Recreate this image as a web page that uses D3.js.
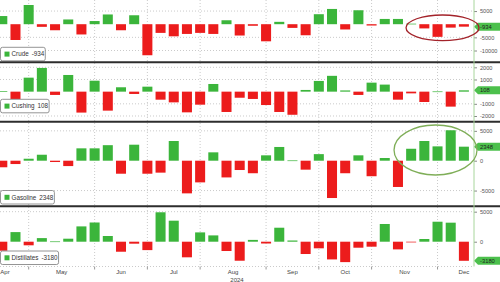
<!DOCTYPE html>
<html>
<head>
<meta charset="utf-8">
<script src="https://cdn.jsdelivr.net/npm/d3@7"></script>
<style>
  body { margin: 0; background: #fff; }
  svg { display: block; font-family: "Liberation Sans", Arial, sans-serif; }
</style>
</head>
<body>
<div id="chart"></div>
<script>
// weekly slots (Fridays), one bar each
const weeks = d3.utcFriday.range(new Date("2024-04-19"), new Date("2024-12-21"));
const monthLabels = ["Apr", "May", "Jun", "Jul", "Aug", "Sep", "Oct", "Nov", "Dec"];
const yearLabel = "2024";

// weekly change, thousand barrels
const crude = [3100, -6000, 7300, -1000, -2300, 1800, -3900, 1200, 3700, -2300, 3400, -11800,
  -3300, -4600, -3700, -3300, -3700, 1500, -4300, -600, -6500, 900, -1400, -4200,
  3800, 5800, -2000, 5300, -500, 2000, 2000, 200, -1600, -4800, -1300, -934];
const cushing = [50, -600, 1150, 1950, -270, 1370, -1720, 900, -1560, 360, -190, 410,
  -660, -880, -1700, -1070, 630, -1670, -500, -600, -1100, -1670, -1900, 140,
  880, 1300, 100, -270, 740, 580, -660, -140, -850, 20, -1230, 108];
const gasoline = [-1100, -560, 330, 1000, -220, -900, 2070, 2070, 2600, -2180, 2680, -2180,
  -2000, 3300, -5470, -3630, 1400, -2800, -1560, -2100, 900, 2300, 50, -1500,
  1100, -6250, -2100, 900, -2600, 450, -4400, 2000, 3300, 2400, 5100, 2348];
const distillates = [-1500, 1600, -600, 600, 50, 500, 2550, 3200, 950, -1670, -330, -1400,
  4900, 3500, -2600, 1550, 1050, -1550, -3170, 300, -300, 2330, 200, -2050,
  -1100, -2950, -3400, -1000, -830, 2950, -1280, -100, 450, 3330, 3170, -3180];

// zero ticks of crude and cushing sit under the last value tag
const crudeTicks = [5000, -5000, -10000];
const cushingTicks = [2000, 1000, -1000, -2000];
const gasolineTicks = [5000, 0, -5000];
const distillatesTicks = [5000, 0];

const width = 500, height = 282, plotRight = 474, plotBottom = 266.5;
const green = "#3bb53b", red = "#ec1c1c", grid = "#bdbdbd";

const panels = [
  { name: "Crude", values: crude, ticks: crudeTicks, top: 0, bottom: 61.3, domain: [-14100, 9200], legendY: 47.3 },
  { name: "Cushing", values: cushing, ticks: cushingTicks, top: 63.3, bottom: 120.7, domain: [-2387, 2330], legendY: 99.3 },
  { name: "Gasoline", values: gasoline, ticks: gasolineTicks, top: 122.7, bottom: 205.3, domain: [-7470, 6365], legendY: 190.5 },
  { name: "Distillates", values: distillates, ticks: distillatesTicks, top: 207.3, bottom: plotBottom, domain: [-4130, 5730], legendY: 251 }
];

const svg = d3.select("#chart").append("svg")
  .attr("width", width)
  .attr("height", height);

const x = d3.scaleBand()
  .domain(d3.range(weeks.length))
  .range([-4.3, 470.5])
  .paddingInner(0.24)
  .paddingOuter(0.12);

// centre of slot i, also for fractional / out of range slots
const xc = (i) => x(0) + x.bandwidth() / 2 + i * x.step();
const slotOf = (d) => (d - weeks[0]) / (7 * 864e5);

// first Friday of each month, Apr .. Jan
const monthStarts = d3.utcMonths(new Date("2024-04-01"), new Date("2025-01-02"))
  .map((m) => slotOf(d3.utcFriday.ceil(m)));
const boundaries = monthStarts.filter((s) => s > 0 && s < weeks.length);

// vertical month grid
svg.append("g")
  .selectAll("line")
  .data(boundaries)
  .join("line")
  .attr("x1", (d) => xc(d))
  .attr("x2", (d) => xc(d))
  .attr("y1", 0)
  .attr("y2", plotBottom)
  .attr("stroke", grid)
  .attr("stroke-width", 0.8)
  .attr("stroke-dasharray", "1,2");

panels.forEach((p) => {
  const y = d3.scaleLinear().domain(p.domain).range([p.bottom, p.top]);
  p.y = y;
  const g = svg.append("g");

  g.append("g")
    .selectAll("line")
    .data(p.ticks.filter((t) => t !== 0))
    .join("line")
    .attr("x1", 0)
    .attr("x2", plotRight)
    .attr("y1", (d) => y(d))
    .attr("y2", (d) => y(d))
    .attr("stroke", grid)
    .attr("stroke-width", 0.8)
    .attr("stroke-dasharray", "1,2");

  g.append("g")
    .selectAll("rect")
    .data(p.values)
    .join("rect")
    .attr("x", (d, i) => x(i))
    .attr("width", x.bandwidth())
    .attr("y", (d) => y(Math.max(0, d)))
    .attr("height", (d) => Math.max(0.7, Math.abs(y(d) - y(0))))
    .attr("fill", (d) => (d >= 0 ? green : red));

  // right axis
  g.append("g")
    .attr("transform", `translate(${plotRight},0)`)
    .call(d3.axisRight(y).tickValues(p.ticks).tickSize(3).tickPadding(3).tickFormat((d) => String(d)))
    .call((a) => a.select(".domain").remove())
    .call((a) => a.selectAll("line").attr("stroke", "#888"))
    .call((a) => a.selectAll("text")
      .attr("font-size", 5.6)
      .attr("font-family", "Liberation Sans, Arial, sans-serif")
      .attr("fill", "#555"));

  // last value tag
  const last = p.values[p.values.length - 1];
  const ty = y(last);
  g.append("path")
    .attr("d", `M${plotRight},${ty} L${plotRight + 4},${ty - 4} H${width + 2} V${ty + 4} H${plotRight + 4} Z`)
    .attr("fill", "#4cc04c");
  g.append("text")
    .attr("x", plotRight + 6)
    .attr("y", ty)
    .attr("dy", "0.35em")
    .attr("font-size", 5.8)
    .attr("fill", "#1e1e1e")
    .text(last);

  // legend box
  const leg = g.append("g").attr("transform", `translate(0.5,${p.legendY})`);
  const box = leg.append("rect")
    .attr("height", 13.5)
    .attr("rx", 2)
    .attr("fill", "#fff")
    .attr("stroke", "#7a7a7a")
    .attr("stroke-width", 0.8);
  leg.append("rect")
    .attr("x", 4)
    .attr("y", 4.3)
    .attr("width", 5)
    .attr("height", 5)
    .attr("fill", green);
  const label = leg.append("text")
    .attr("x", 11)
    .attr("y", 9.1)
    .attr("font-size", 6.3)
    .attr("fill", "#333");
  label.append("tspan").text(p.name);
  label.append("tspan").attr("dx", 3).text(last);
  box.attr("width", 11 + label.node().getComputedTextLength() + 4);
});

// panel separators
svg.append("g")
  .selectAll("line")
  .data(panels.slice(1))
  .join("line")
  .attr("x1", 0)
  .attr("x2", width)
  .attr("y1", (p) => p.top - 1)
  .attr("y2", (p) => p.top - 1)
  .attr("stroke", "#2d2d2d")
  .attr("stroke-width", 2);

// right axis line
svg.append("line")
  .attr("x1", plotRight)
  .attr("x2", plotRight)
  .attr("y1", 0)
  .attr("y2", plotBottom)
  .attr("stroke", "#a8d69c")
  .attr("stroke-width", 1);

// annotations around the last five weeks
const crudeY = panels[0].y, gasY = panels[2].y;
svg.append("ellipse")
  .attr("cx", xc(33) + 5)
  .attr("cy", crudeY(0) + 3.6)
  .attr("rx", 36.5)
  .attr("ry", 12.8)
  .attr("fill", "none")
  .attr("stroke", "#a3232a")
  .attr("stroke-width", 1.3);
svg.append("ellipse")
  .attr("cx", xc(33) - 2)
  .attr("cy", gasY(0) - 10.7)
  .attr("rx", 41.5)
  .attr("ry", 25)
  .attr("fill", "none")
  .attr("stroke", "#7fae58")
  .attr("stroke-width", 1.3);

// bottom axis
svg.append("line")
  .attr("x1", 0)
  .attr("x2", plotRight)
  .attr("y1", plotBottom)
  .attr("y2", plotBottom)
  .attr("stroke", grid)
  .attr("stroke-width", 0.8)
  .attr("stroke-dasharray", "1,2");

svg.append("g")
  .selectAll("line")
  .data(boundaries)
  .join("line")
  .attr("x1", (d) => xc(d))
  .attr("x2", (d) => xc(d))
  .attr("y1", plotBottom)
  .attr("y2", plotBottom + 3)
  .attr("stroke", "#999");

svg.append("g")
  .selectAll("text")
  .data(monthLabels)
  .join("text")
  .attr("x", (d, i) => Math.max(5, xc((monthStarts[i] + monthStarts[i + 1]) / 2)))
  .attr("y", 274.2)
  .attr("text-anchor", "middle")
  .attr("font-size", 6)
  .attr("fill", "#444")
  .text((d) => d);

svg.append("text")
  .attr("x", plotRight / 2)
  .attr("y", 281.6)
  .attr("text-anchor", "middle")
  .attr("font-size", 6)
  .attr("fill", "#444")
  .text(yearLabel);
</script>
</body>
</html>
